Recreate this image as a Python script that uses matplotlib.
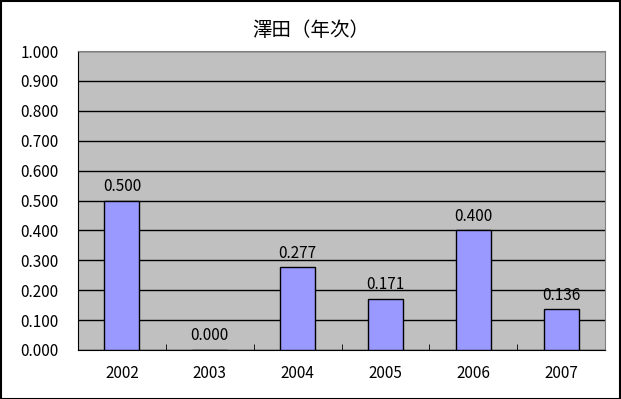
import numpy as np
import matplotlib
matplotlib.use('Agg')
import matplotlib.pyplot as plt
from matplotlib.patches import Rectangle

plt.rcParams['font.family'] = ['Noto Sans CJK JP', 'DejaVu Sans']

years = ['2002', '2003', '2004', '2005', '2006', '2007']
values = [0.500, 0.000, 0.277, 0.171, 0.400, 0.136]
title = '澤田（年次）'

fig = plt.figure(figsize=(6.21, 3.99), dpi=100)
# plot area in pixels: x 78..605, y 51..350
ax = fig.add_axes([78/621, 1 - 350/399, 527/621, 299/399])
ax.set_facecolor('#C0C0C0')

x = np.arange(len(years))
bars = ax.bar(x, values, width=0.4, color='#9999FF', edgecolor='black', linewidth=1, zorder=3)
for xi, v in zip(x, values):
    ax.annotate('%.3f' % v, (xi, v), xytext=(0, 4), textcoords='offset points',
                ha='center', va='bottom', fontsize=11)

ax.set_xlim(-0.5, len(years) - 0.5)
ax.set_ylim(0, 1.0)
ax.set_yticks(np.arange(0, 1.01, 0.1))
ax.set_yticklabels(['%.3f' % t for t in np.arange(0, 1.01, 0.1)], fontsize=11)
ax.yaxis.grid(True, color='black', linewidth=1, zorder=1)
ax.set_axisbelow(True)

ax.set_xticks(x)
ax.set_xticklabels(years, fontsize=11)
ax.set_xticks(np.arange(-0.5, len(years)), minor=True)
ax.tick_params(axis='x', which='major', length=0, pad=11)
ax.tick_params(axis='x', which='minor', direction='in', length=4, color='black')
ax.tick_params(axis='y', length=0, pad=14)

ax.spines['top'].set_color('#808080')
ax.spines['right'].set_color('#808080')
ax.spines['left'].set_color('black')
ax.spines['bottom'].set_color('black')

fig.text(0.5, 1 - 30/399, title, ha='center', va='center', fontsize=14)
fig.patches.append(Rectangle((0.001, 0.001), 0.997, 0.997, transform=fig.transFigure,
                             fill=False, edgecolor='black', linewidth=1.5))

fig.savefig('out.png', dpi=100)
